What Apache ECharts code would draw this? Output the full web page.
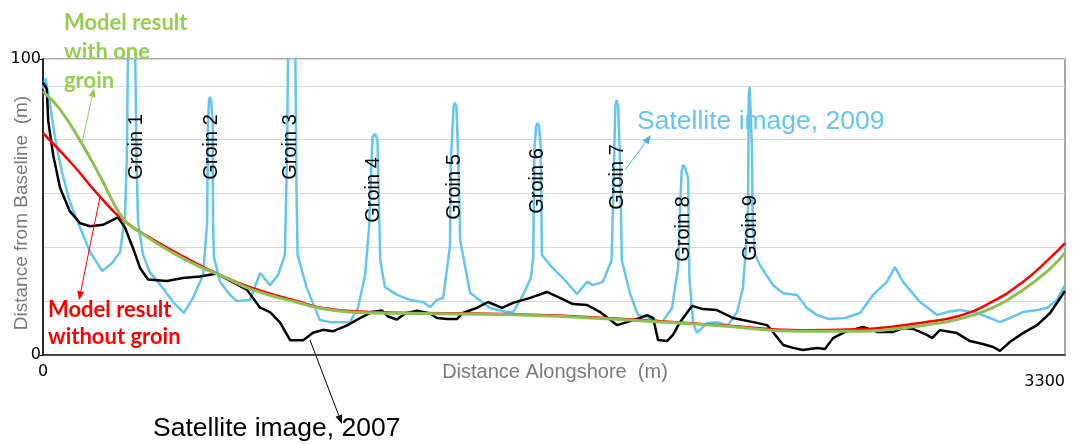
<!DOCTYPE html>
<html>
<head>
<meta charset="utf-8">
<script src="https://cdn.jsdelivr.net/npm/echarts@6/dist/echarts.min.js"></script>
<style>
  html, body { margin: 0; padding: 0; background: #fff; }
  #chart { width: 1074px; height: 444px; }
</style>
</head>
<body>
<div id="chart"></div>
<script>
// [distance alongshore (m), distance from baseline (m)]
const satellite2009 = [
  [0, 90], [8, 93.5], [23, 84.5], [39, 73.3], [61, 61.8], [87, 51.7], [120, 42.9], [152, 34.8],
  [191, 28.4], [223, 31.1], [249, 34.8], [265, 47.3], [271, 67.6], [274, 100], [280, 112], [292, 112],
  [298, 100], [302, 65], [307, 44.9], [323, 33.8], [345, 28], [387, 22.6], [420, 17.9], [455, 14.2],
  [484, 19.3], [517, 27], [530, 44.9], [533, 78.7], [536, 86], [539, 87.2], [543, 86], [548, 78.7],
  [549, 45], [552, 33], [572, 24.7], [604, 20.3], [626, 18.2], [668, 18.6], [701, 27.7], [733, 23.6],
  [759, 27], [781, 33.8], [788, 67.6], [791, 100], [797, 115], [810, 115], [815, 100], [818, 60],
  [822, 33.8], [852, 22.6], [894, 11.8], [927, 11.1], [991, 11.1], [1017, 15.9], [1040, 27],
  [1053, 43.3], [1064, 73.7], [1072, 74.7], [1080, 72.7], [1086, 45], [1089, 32], [1104, 23],
  [1143, 20.3], [1185, 18.6], [1227, 17.9], [1250, 16.2], [1272, 18.6], [1292, 19.3], [1314, 36.6],
  [1317, 66], [1326, 84], [1330, 85.2], [1335, 84], [1341, 66], [1347, 38.9], [1379, 21],
  [1443, 15.9], [1498, 14.5], [1518, 14.5], [1550, 20.3], [1575, 26], [1583, 33], [1587, 70],
  [1592, 77], [1597, 78.4], [1602, 77], [1607, 70], [1611, 33.8], [1637, 30.4], [1679, 26],
  [1724, 20.6], [1757, 24.7], [1776, 23.6], [1808, 24.7], [1836, 32], [1844, 66], [1848, 84],
  [1852, 86.1], [1857, 84], [1863, 66], [1869, 32], [1895, 21], [1921, 13.5], [1960, 12.5],
  [1999, 11.1], [2031, 15.9], [2051, 29.8], [2057, 49], [2062, 62], [2067, 64.2], [2074, 63],
  [2083, 60], [2087, 26.5], [2099, 11.1], [2111, 7.5], [2144, 10.8], [2176, 11.1], [2212, 10.1],
  [2241, 14.5], [2260, 22.6], [2276, 44.9], [2279, 88], [2282, 90.5], [2286, 90.5], [2289, 70],
  [2292, 44], [2299, 34], [2315, 30.4], [2357, 23.6], [2390, 20.9], [2435, 20.3], [2467, 15.9],
  [2499, 13.5], [2535, 12.2], [2590, 12.5], [2638, 14.2], [2680, 20.3], [2725, 24.7], [2751, 29.7],
  [2777, 24.7], [2832, 17.9], [2887, 13.5], [2919, 14.5], [2961, 15.2], [3016, 14.2], [3058, 12.5],
  [3090, 11.1], [3122, 12.5], [3164, 14.5], [3210, 15.2], [3242, 15.9], [3274, 18.6], [3300, 23.6]
];

const satellite2007 = [
  [0, 92], [12, 90], [17, 79], [33, 67.5], [55, 56.5], [87, 48.5], [120, 44.5], [152, 43.5],
  [194, 44], [242, 46.5], [265, 43], [291, 36], [313, 29.5], [339, 25.5], [400, 25], [452, 26],
  [507, 26.5], [562, 27.5], [614, 24.5], [659, 22], [701, 16], [733, 14.5], [765, 11], [798, 5],
  [840, 5], [872, 7.5], [904, 8.5], [936, 8], [982, 10], [1024, 12.5], [1062, 14.5], [1095, 15],
  [1114, 13], [1143, 12], [1169, 14], [1208, 15], [1250, 14], [1272, 12.5], [1305, 12.2],
  [1337, 12.2], [1356, 14.2], [1401, 15.9], [1437, 17.9], [1482, 15.9], [1518, 17.6], [1573, 19.3],
  [1627, 21.3], [1669, 19.3], [1711, 17.2], [1757, 16.9], [1799, 14.5], [1853, 10.1], [1886, 11.1],
  [1928, 12.5], [1950, 13.5], [1970, 12.5], [1986, 5.1], [2015, 4.7], [2034, 6.8], [2057, 11.1],
  [2096, 16.6], [2131, 15.5], [2176, 15.2], [2228, 12.5], [2293, 11.1], [2338, 10.1], [2357, 7.8],
  [2390, 3.4], [2422, 2.4], [2454, 1.7], [2499, 2.4], [2525, 2], [2551, 5.7], [2590, 7.8],
  [2648, 9.5], [2693, 7.8], [2745, 7.8], [2777, 9.1], [2809, 8.8], [2854, 6.8], [2871, 5.7],
  [2896, 8.4], [2951, 7.4], [2993, 4.7], [3035, 3.7], [3068, 2.7], [3090, 1.4], [3122, 4.4],
  [3164, 7.4], [3210, 10.1], [3252, 14.2], [3300, 21.6]
];

const modelWithoutGroin = [
  [0, 75], [97, 64.2], [184, 53.5], [259, 45.6], [367, 38.3], [475, 32.1], [572, 27], [678, 22.6],
  [830, 17.9], [904, 15.9], [1066, 14.5], [1227, 14.2], [1605, 13.5], [1928, 11.8], [2186, 10.1],
  [2444, 8.4], [2628, 8.7], [2735, 9.5], [2842, 11], [2951, 13], [3058, 17.6], [3164, 24.7],
  [3252, 32.8], [3300, 37.8]
];

const modelOneGroin = [
  [0, 89], [55, 83], [125, 71.5], [184, 60.5], [259, 46], [313, 41.5], [420, 34.5], [507, 29.8],
  [572, 27], [678, 22], [830, 17.5], [904, 15.6], [1066, 14.2], [1227, 14], [1605, 13.3],
  [1928, 11.6], [2186, 9.9], [2444, 8], [2628, 8], [2735, 8.6], [2842, 10], [2951, 12],
  [3058, 15.6], [3164, 22], [3252, 29.2], [3300, 34.5]
];

const groinLabels = ['Groin 1', 'Groin 2', 'Groin 3', 'Groin 4', 'Groin 5', 'Groin 6', 'Groin 7', 'Groin 8', 'Groin 9'];
const xTicks = [0, 3300];
const yTicks = [0, 100];

// label positions on screen (px)
const groinPos = [[136, 147], [211, 147], [290, 147], [373, 190], [454, 187], [537, 181], [617, 177], [683, 229], [750, 228]];

const chart = echarts.init(document.getElementById('chart'));

const arrow = (x1, y1, x2, y2, color) => {
  const a = Math.atan2(y2 - y1, x2 - x1);
  const len = 9, w = 3.5;
  const bx = x2 - len * Math.cos(a), by = y2 - len * Math.sin(a);
  return [
    { type: 'line', z: 100, shape: { x1: x1, y1: y1, x2: bx, y2: by }, style: { stroke: color, lineWidth: 1 } },
    { type: 'polygon', z: 100, shape: { points: [[x2, y2], [bx + w * Math.sin(a), by - w * Math.cos(a)], [bx - w * Math.sin(a), by + w * Math.cos(a)]] }, style: { fill: color } }
  ];
};

const txt = (text, x, y, opt) => ({
  type: 'text', z: 100, x: x, y: y, rotation: opt.rotation || 0,
  style: {
    text: text,
    fill: opt.color,
    fontSize: opt.size,
    fontWeight: opt.weight || 'normal',
    fontFamily: opt.family || '"Liberation Sans", Arial, sans-serif',
    lineHeight: opt.lineHeight,
    align: opt.align || 'left', textAlign: opt.align || 'left',
    verticalAlign: opt.valign || 'middle', textVerticalAlign: opt.valign || 'middle'
  }
});

const graphics = [];
groinLabels.forEach((g, i) => {
  graphics.push(txt(g, groinPos[i][0], groinPos[i][1], { color: '#000', size: 20, align: 'center', rotation: Math.PI / 2 }));
});
graphics.push(txt('Model result\nwith one\ngroin', 64, 52, { color: '#92D050', size: 22, weight: 'bold', family: 'Lato, sans-serif', lineHeight: 29 }));
graphics.push(txt('Model result\nwithout groin', 48, 323, { color: '#FF0000', size: 22, weight: 'bold', family: 'Lato, sans-serif', lineHeight: 27 }));
graphics.push(txt('Satellite image, 2009', 637, 122, { color: '#63C6EE', size: 26.5 }));
graphics.push(txt('Satellite image, 2007', 153, 429, { color: '#000', size: 26.5 }));
graphics.push(txt('Distance from Baseline  (m)', 22, 213, { color: '#7a7a7a', size: 19, align: 'center', rotation: Math.PI / 2 }));
graphics.push(txt('Distance Alongshore  (m)', 555, 372, { color: '#7a7a7a', size: 20, align: 'center' }));
graphics.push(...arrow(82, 143, 94, 88, '#92D050'));
graphics.push(...arrow(100, 197, 79, 300, '#FF0000'));
graphics.push(...arrow(625, 170, 651, 135, '#3BB4E6'));
graphics.push(...arrow(310, 340, 342, 424, '#000'));

const lineSeries = (name, data, color, width, smooth) => ({
  name: name,
  type: 'line',
  data: data,
  symbol: 'none',
  smooth: smooth,
  clip: true,
  lineStyle: { color: color, width: width },
  emphasis: { disabled: true }
});

chart.setOption({
  animation: false,
  grid: { left: 43, right: 9, top: 59, bottom: 89, show: true, borderColor: '#8c8c8c', borderWidth: 1.5 },
  xAxis: {
    type: 'value', min: xTicks[0], max: xTicks[1], interval: xTicks[1],
    axisLine: { lineStyle: { color: '#222', width: 1.5 } },
    axisTick: { show: false },
    splitLine: { show: false },
    axisLabel: {
      color: '#000', fontSize: 16, fontFamily: '"DejaVu Sans", sans-serif', margin: 9,
      alignMaxLabel: 'right', alignMinLabel: 'center',
      formatter: (v) => (v === xTicks[1] ? '{max|' + v + '}' : String(v)),
      rich: { max: { color: '#000', fontSize: 16, fontFamily: '"DejaVu Sans", sans-serif', padding: [10, 0, 0, 0] } }
    }
  },
  yAxis: [{
    type: 'value', min: yTicks[0], max: yTicks[1], interval: yTicks[1],
    axisLine: { show: true, lineStyle: { color: '#000', width: 1.5 } },
    axisTick: { show: true, length: 3, lineStyle: { color: '#000' } },
    splitLine: { show: false },
    axisLabel: { color: '#000', fontSize: 16, fontFamily: '"DejaVu Sans", sans-serif', margin: 2 }
  }, {
    // grid lines of the original sit on a 0-110 scale
    type: 'value', min: 0, max: 110, interval: 20, position: 'left',
    axisLine: { show: false }, axisTick: { show: false }, axisLabel: { show: false },
    splitLine: { lineStyle: { color: '#d9d9d9', width: 1 } }
  }],
  series: [
    lineSeries('Satellite image, 2009', satellite2009, '#63C6EE', 2.5, false),
    lineSeries('Satellite image, 2007', satellite2007, '#000', 2.5, false),
    lineSeries('Model result without groin', modelWithoutGroin, '#FF0000', 2.5, true),
    lineSeries('Model result with one groin', modelOneGroin, '#8CC152', 3, true)
  ],
  graphic: graphics
});
</script>
</body>
</html>
